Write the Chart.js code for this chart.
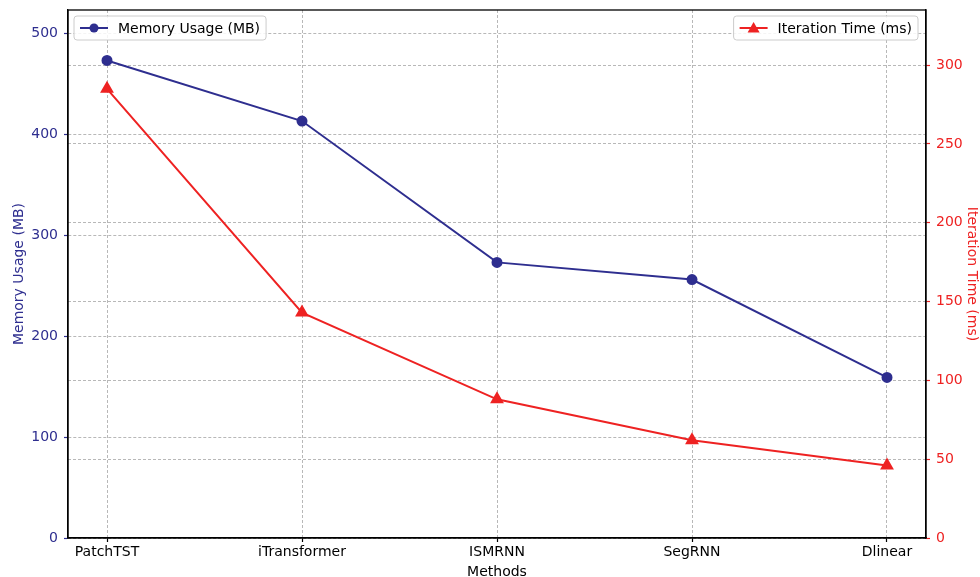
<!DOCTYPE html>
<html>
<head>
<meta charset="utf-8">
<script src="https://cdn.jsdelivr.net/npm/chart.js@4"></script>
<style>
  html, body { margin: 0; padding: 0; background: #fff; }
  #wrap { width: 980px; height: 577px; }
</style>
</head>
<body>
<div id="wrap"><canvas id="chart" width="980" height="577"></canvas></div>
<script>
// data
var methods = ["PatchTST", "iTransformer", "ISMRNN", "SegRNN", "Dlinear"];
var memoryMB = [473, 413, 273, 256, 159];
var iterMs = [285, 143, 88, 62, 46];

var navy = "#2e2e8f";
var red = "#ee2222";
var gridCol = "rgba(128,128,128,0.8)";
var fontFam = "'DejaVu Sans', sans-serif";

function pts(arr) {
    return arr.map((v, i) => ({ x: i, y: v }));
}

//Rahmen und Legenden
var extras = {
    id: "extras",
    afterDraw(chart) {
        var ctx = chart.ctx;
        var a = chart.chartArea;
        ctx.save();
        ctx.strokeStyle = "#000";
        ctx.lineWidth = 1.3;
        ctx.strokeRect(a.left, a.top, a.right - a.left, a.bottom - a.top);
        ctx.font = "14px " + fontFam;
        ctx.textBaseline = "middle";
        drawLegend(ctx, a.left + 6, a.top + 6, chart.data.datasets[0], "left");
        drawLegend(ctx, a.right - 8, a.top + 6, chart.data.datasets[1], "right");
        ctx.restore();
    }
};

function drawLegend(ctx, x, y, ds, side) {
    var tw = ctx.measureText(ds.label).width;
    var w = tw + 50, h = 24;
    var bx = side == "left" ? x : x - w;
    ctx.fillStyle = "rgba(255,255,255,0.85)";
    ctx.strokeStyle = "#cccccc";
    ctx.lineWidth = 1;
    ctx.beginPath();
    ctx.roundRect(bx, y, w, h, 3);
    ctx.fill();
    ctx.stroke();
    var cy = y + h / 2;
    ctx.strokeStyle = ds.borderColor;
    ctx.lineWidth = 2;
    ctx.beginPath();
    ctx.moveTo(bx + 6, cy);
    ctx.lineTo(bx + 34, cy);
    ctx.stroke();
    ctx.fillStyle = ds.borderColor;
    ctx.beginPath();
    if (ds.pointStyle == "triangle") {
        ctx.moveTo(bx + 20, cy - 6);
        ctx.lineTo(bx + 26, cy + 4.5);
        ctx.lineTo(bx + 14, cy + 4.5);
        ctx.closePath();
    } else {
        ctx.arc(bx + 20, cy, 4.5, 0, Math.PI * 2);
    }
    ctx.fill();
    ctx.fillStyle = "#000";
    ctx.textAlign = "left";
    ctx.fillText(ds.label, bx + 44, cy + 1);
}

function fitY(width) {
    return s => {
        s.width = width;
        s.paddingTop = 0;
        s.paddingBottom = 0;
    };
}

new Chart(document.getElementById("chart"), {
    type: "line",
    data: {
        datasets: [{
            label: "Memory Usage (MB)",
            data: pts(memoryMB),
            yAxisID: "y",
            borderColor: navy,
            backgroundColor: navy,
            borderWidth: 2,
            pointStyle: "circle",
            pointRadius: 4.5,
            pointHoverRadius: 4.5,
            tension: 0
        }, {
            label: "Iteration Time (ms)",
            data: pts(iterMs),
            yAxisID: "y1",
            borderColor: red,
            backgroundColor: red,
            borderWidth: 2,
            pointStyle: "triangle",
            pointRadius: 6,
            pointHoverRadius: 6,
            tension: 0
        }]
    },
    options: {
        responsive: false,
        animation: false,
        layout: { padding: { top: 10, left: 0, right: 0, bottom: 0 } },
        plugins: {
            legend: { display: false },
            tooltip: { enabled: false }
        },
        scales: {
            x: {
                type: "linear",
                min: -0.2,
                max: 4.2,
                afterBuildTicks: s => { s.ticks = methods.map((m, i) => ({ value: i })); },
                afterFit: s => { s.height = 39; },
                ticks: {
                    color: "#000",
                    font: { family: fontFam, size: 14 },
                    padding: 2,
                    maxRotation: 0,
                    autoSkip: false,
                    callback: v => methods[v]
                },
                grid: {
                    color: gridCol,
                    lineWidth: 0.7,
                    tickLength: 4,
                    tickColor: "#000",
                    tickWidth: 1.2
                },
                border: { color: "#000", width: 1.3, dash: [3, 2] },
                title: {
                    display: true,
                    text: "Methods",
                    color: "#000",
                    font: { family: fontFam, size: 14 },
                    padding: { top: 0, bottom: -4 }
                }
            },
            y: {
                position: "left",
                min: 0,
                max: 523,
                afterBuildTicks: s => { s.ticks = [0, 100, 200, 300, 400, 500].map(v => ({ value: v })); },
                afterFit: fitY(68),
                ticks: {
                    color: navy,
                    font: { family: fontFam, size: 14 },
                    padding: 6
                },
                grid: {
                    color: gridCol,
                    lineWidth: 0.7,
                    tickLength: 4,
                    tickColor: navy,
                    tickWidth: 1.2
                },
                border: { color: "#000", width: 1.3, dash: [3, 2] },
                title: {
                    display: true,
                    text: "Memory Usage (MB)",
                    color: navy,
                    font: { family: fontFam, size: 14 },
                    padding: { top: 11, bottom: 0 }
                }
            },
            y1: {
                position: "right",
                min: 0,
                max: 335,
                afterBuildTicks: s => { s.ticks = [0, 50, 100, 150, 200, 250, 300].map(v => ({ value: v })); },
                afterFit: fitY(54),
                ticks: {
                    color: red,
                    font: { family: fontFam, size: 14 },
                    padding: 6
                },
                grid: {
                    color: gridCol,
                    lineWidth: 0.7,
                    tickLength: 4,
                    tickColor: red,
                    tickWidth: 1.2
                },
                border: { color: "#000", width: 1.3, dash: [3, 2] },
                title: {
                    display: true,
                    text: "Iteration Time (ms)",
                    color: red,
                    font: { family: fontFam, size: 14 },
                    padding: { top: 0, bottom: 0 }
                }
            }
        }
    },
    plugins: [extras]
});
</script>
</body>
</html>
